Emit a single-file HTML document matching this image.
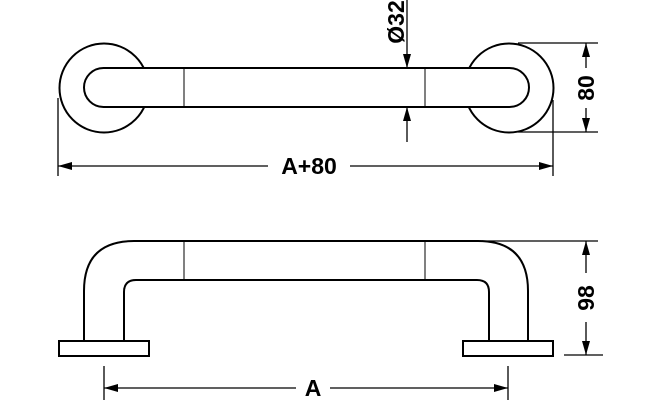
<!DOCTYPE html>
<html><head><style>body{margin:0;background:#fff}svg{display:block}text{font-family:"Liberation Sans",sans-serif;font-weight:bold;fill:#000}</style></head><body>
<svg width="659" height="400" viewBox="0 0 659 400">
<defs><marker id="a" markerWidth="14" markerHeight="8" refX="14" refY="4" orient="auto" markerUnits="userSpaceOnUse"><path d="M0,0 L14,4 L0,8 Z" fill="#000"/></marker></defs>
<g fill="none" stroke="#000">
<!-- top view rosettes -->
<circle cx="104" cy="88" r="44.5" stroke-width="2" fill="#fff"/>
<circle cx="509" cy="88" r="44.5" stroke-width="2" fill="#fff"/>
<rect x="84" y="68" width="445" height="39" rx="19.5" fill="#fff" stroke-width="2"/>
<line x1="184" y1="68" x2="184" y2="107" stroke-width="1"/>
<line x1="425" y1="68" x2="425" y2="107" stroke-width="1"/>
<!-- Ø32 -->
<line x1="407" y1="0" x2="407" y2="68" stroke-width="1.3" marker-end="url(#a)"/>
<line x1="407" y1="142" x2="407" y2="107" stroke-width="1.3" marker-end="url(#a)"/>
<!-- 80 -->
<line x1="518" y1="43" x2="598" y2="43" stroke-width="1.3"/>
<line x1="518" y1="132" x2="598" y2="132" stroke-width="1.3"/>
<line x1="586" y1="68" x2="586" y2="43" stroke-width="1.3" marker-end="url(#a)"/>
<line x1="586" y1="108" x2="586" y2="132" stroke-width="1.3" marker-end="url(#a)"/>
<!-- A+80 -->
<line x1="58" y1="98" x2="58" y2="176" stroke-width="1.3"/>
<line x1="553" y1="100" x2="553" y2="176" stroke-width="1.3"/>
<line x1="268" y1="166" x2="58" y2="166" stroke-width="1.3" marker-end="url(#a)"/>
<line x1="350" y1="166" x2="553" y2="166" stroke-width="1.3" marker-end="url(#a)"/>
<!-- bottom view -->
<path d="M84,341 L84,291 Q84,241 134,241 L478,241 Q528,241 528,291 L528,341" stroke-width="2"/>
<path d="M124,341 L124,292 Q124,280 136,280 L477,280 Q489,280 489,292 L489,341" stroke-width="2"/>
<line x1="184" y1="241" x2="184" y2="280" stroke-width="1"/>
<line x1="425" y1="241" x2="425" y2="280" stroke-width="1"/>
<rect x="59" y="341" width="90" height="15" stroke-width="2"/>
<rect x="463" y="341" width="90" height="15" stroke-width="2"/>
<!-- 98 -->
<line x1="482" y1="241" x2="598" y2="241" stroke-width="1.3"/>
<line x1="564" y1="355" x2="603" y2="355" stroke-width="1.3"/>
<line x1="586" y1="273" x2="586" y2="241" stroke-width="1.3" marker-end="url(#a)"/>
<line x1="586" y1="322" x2="586" y2="355" stroke-width="1.3" marker-end="url(#a)"/>
<!-- A -->
<line x1="104" y1="366" x2="104" y2="400" stroke-width="1.3"/>
<line x1="508" y1="366" x2="508" y2="400" stroke-width="1.3"/>
<line x1="296" y1="388" x2="104" y2="388" stroke-width="1.3" marker-end="url(#a)"/>
<line x1="330" y1="388" x2="508" y2="388" stroke-width="1.3" marker-end="url(#a)"/>
</g>
<text x="0" y="0" font-size="23" text-anchor="middle" transform="translate(404,22) rotate(-90)">Ø32</text>
<text x="0" y="0" font-size="23" text-anchor="middle" transform="translate(594,88) rotate(-90)">80</text>
<text x="0" y="0" font-size="23" text-anchor="middle" transform="translate(594,298) rotate(-90)">98</text>
<text x="309" y="174" font-size="23" text-anchor="middle">A+80</text>
<text x="313" y="396" font-size="23" text-anchor="middle">A</text>
</svg>
</body></html>
